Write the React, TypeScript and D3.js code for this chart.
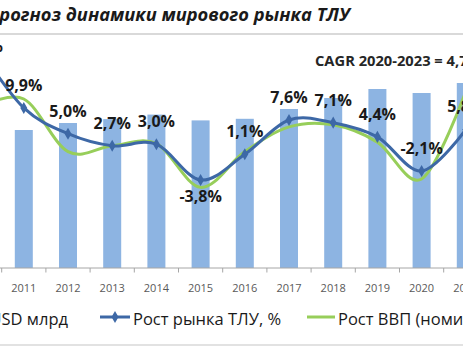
import React from 'react';
import * as d3 from 'd3';

const lineYears = [2010, 2011, 2012, 2013, 2014, 2015, 2016, 2017, 2018, 2019, 2020, 2021];
const barYears = [2011, 2012, 2013, 2014, 2015, 2016, 2017, 2018, 2019, 2020, 2021];
const marketSize = [6900, 7250, 7445, 7670, 7380, 7460, 7950, 8500, 8950, 8750, 9250];
const marketGrowth = [21.0, 9.9, 5.0, 2.7, 3.0, -3.8, 1.1, 7.6, 7.1, 4.4, -2.1, 5.8];
const gdpGrowth = [10.0, 11.6, 1.6, 2.7, 3.1, -5.2, 1.6, 6.3, 6.7, 3.4, -3.6, 13.0];
const labelsBelow = [2015];

const title = 'Прогноз динамики мирового рынка ТЛУ';
const cagrText = 'CAGR 2020-2023 = 4,7%';
const legendBars = 'USD млрд';
const legendMarket = 'Рост рынка ТЛУ, %';
const legendGdp = 'Рост ВВП (номинальный), %';

const W = 463;
const H = 348;
const FONT = '"Open Sans", "DejaVu Sans", sans-serif';
const BAR_COLOR = '#8DB4E2';
const BLUE = '#3D68A6';
const GREEN = '#97CE5A';

export default function App() {
  const step = 44.2;
  const x = d3
    .scaleBand<string>()
    .domain(lineYears.map(String))
    .range([-42.5, -42.5 + step * lineYears.length])
    .padding(0);
  const cx = (y: number) => (x(String(y)) as number) + x.bandwidth() / 2;
  const baseY = 268;
  const yBar = d3.scaleLinear().domain([0, 10000]).range([baseY, 68]);
  const yPct = d3.scaleLinear().domain([-10, 30]).range([212.6, 2.2]);
  const barW = 18;

  const line = d3
    .line<number>()
    .x((_, i) => cx(lineYears[i]))
    .y((d) => yPct(d))
    .curve(d3.curveCardinal.tension(0));

  const diamond = d3.symbol().type(d3.symbolDiamond).size(42)() as string;
  const fmt = (v: number) => `${v.toFixed(1).replace('.', ',')}%`;

  return (
    <svg
      width={W}
      height={H}
      style={{ position: 'absolute', left: 0, top: 0, background: '#fff' }}
      fontFamily={FONT}
    >
      <rect x={0} y={0} width={W} height={H} fill="#fff" />
      {/* title */}
      <text
        x={350}
        y={21}
        textAnchor="end"
        fontSize={18.3}
        fontWeight="bold"
        fontStyle="italic"
        fill="#1a1a1a"
      >
        {title}
      </text>
      <line x1={0} x2={W} y1={34} y2={34} stroke="#D9D9D9" strokeWidth={2} />

      {/* bars */}
      {barYears.map((yr, i) => (
        <rect
          key={yr}
          x={cx(yr) - barW / 2}
          y={yBar(marketSize[i])}
          width={barW}
          height={baseY - yBar(marketSize[i])}
          fill={BAR_COLOR}
        />
      ))}

      {/* axis */}
      <line x1={0} x2={W} y1={baseY} y2={baseY} stroke="#A6A6A6" strokeWidth={1} />
      {barYears.map((yr) => (
        <line
          key={'t' + yr}
          x1={x(String(yr)) as number}
          x2={x(String(yr)) as number}
          y1={baseY}
          y2={baseY + 4.5}
          stroke="#A6A6A6"
        />
      ))}
      {barYears.map((yr) => (
        <text
          key={'l' + yr}
          x={cx(yr)}
          y={292}
          textAnchor="middle"
          fontSize={11}
          fill="#595959"
        >
          {yr}
        </text>
      ))}

      {/* lines */}
      <path d={line(gdpGrowth) as string} fill="none" stroke={GREEN} strokeWidth={3} />
      <path d={line(marketGrowth) as string} fill="none" stroke={BLUE} strokeWidth={3} />
      {marketGrowth.map((v, i) => (
        <path
          key={'m' + i}
          d={diamond}
          transform={`translate(${cx(lineYears[i])},${yPct(v)})`}
          fill={BLUE}
        />
      ))}

      {/* labels */}
      {marketGrowth.map((v, i) => {
        const yr = lineYears[i];
        const py = yPct(v);
        const below = labelsBelow.includes(yr);
        const ly = below ? py + 16 : Math.max(py - 23, 46);
        return (
          <text
            key={'dl' + i}
            x={cx(yr)}
            y={ly}
            dominantBaseline="central"
            textAnchor="middle"
            fontSize={16}
            fontWeight="bold"
            fill="#1a1a1a"
          >
            {fmt(v)}
          </text>
        );
      })}

      <text x={315} y={66} fontSize={14.7} fontWeight="bold" fill="#262626">
        {cagrText}
      </text>

      {/* legend */}
      <text x={68} y={325} textAnchor="end" fontSize={16.5} fill="#1a1a1a">
        {legendBars}
      </text>
      <line x1={100} x2={130} y1={317} y2={317} stroke={BLUE} strokeWidth={3} />
      <path d={diamond} transform="translate(115,317)" fill={BLUE} />
      <text x={133} y={325} fontSize={16.5} fill="#1a1a1a">
        {legendMarket}
      </text>
      <line x1={307} x2={335} y1={317} y2={317} stroke={GREEN} strokeWidth={3} />
      <text x={338} y={325} fontSize={16.5} fill="#1a1a1a">
        {legendGdp}
      </text>
      <line x1={0} x2={W} y1={345} y2={345} stroke="#D9D9D9" strokeWidth={1.5} />
    </svg>
  );
}
